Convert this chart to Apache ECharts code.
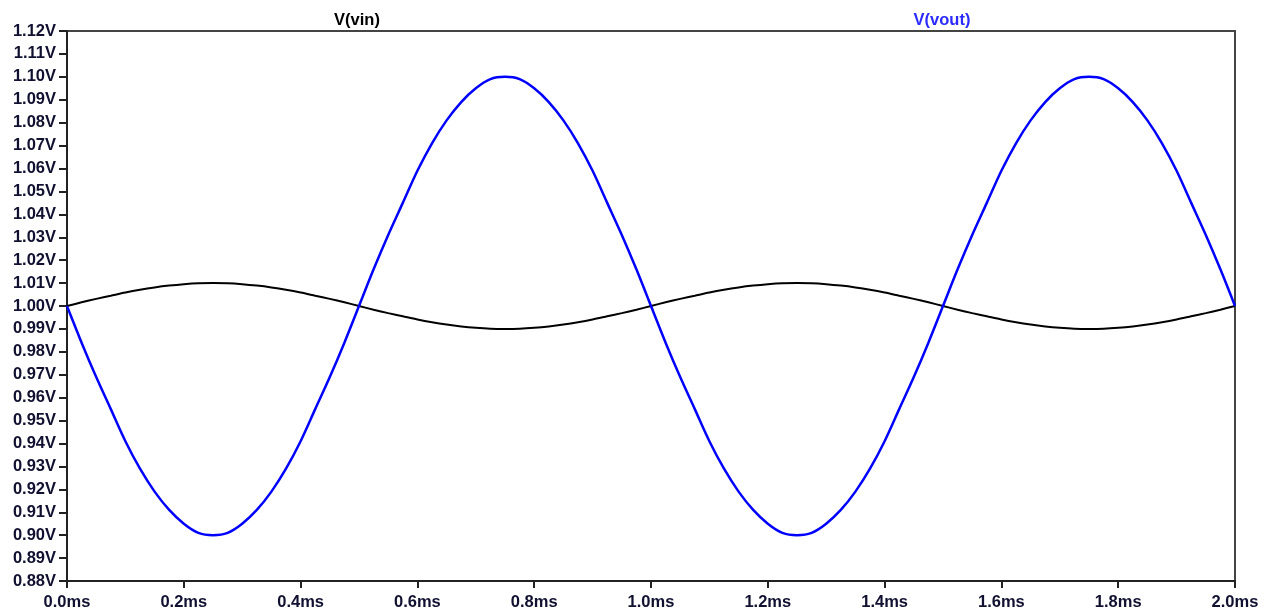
<!DOCTYPE html>
<html>
<head>
<meta charset="utf-8">
<title>V(vin) / V(vout)</title>
<script src="https://cdn.jsdelivr.net/npm/echarts@6/dist/echarts.min.js"></script>
<style>
html, body { margin: 0; padding: 0; background: #fff; }
#main { width: 1270px; height: 614px; }
</style>
</head>
<body>
<div id="main"></div>
<script>
// time in ms, sampled every 0.025ms
var time = [0.000, 0.025, 0.050, 0.075, 0.100, 0.125, 0.150, 0.175, 0.200, 0.225,
            0.250, 0.275, 0.300, 0.325, 0.350, 0.375, 0.400, 0.425, 0.450, 0.475,
            0.500, 0.525, 0.550, 0.575, 0.600, 0.625, 0.650, 0.675, 0.700, 0.725,
            0.750, 0.775, 0.800, 0.825, 0.850, 0.875, 0.900, 0.925, 0.950, 0.975,
            1.000, 1.025, 1.050, 1.075, 1.100, 1.125, 1.150, 1.175, 1.200, 1.225,
            1.250, 1.275, 1.300, 1.325, 1.350, 1.375, 1.400, 1.425, 1.450, 1.475,
            1.500, 1.525, 1.550, 1.575, 1.600, 1.625, 1.650, 1.675, 1.700, 1.725,
            1.750, 1.775, 1.800, 1.825, 1.850, 1.875, 1.900, 1.925, 1.950, 1.975, 2.000];
var vin = [1.0000, 1.0016, 1.0031, 1.0045, 1.0059, 1.0071, 1.0081, 1.0089, 1.0095, 1.0099,
           1.0100, 1.0099, 1.0095, 1.0089, 1.0081, 1.0071, 1.0059, 1.0045, 1.0031, 1.0016,
           1.0000, 0.9984, 0.9969, 0.9955, 0.9941, 0.9929, 0.9919, 0.9911, 0.9905, 0.9901,
           0.9900, 0.9901, 0.9905, 0.9911, 0.9919, 0.9929, 0.9941, 0.9955, 0.9969, 0.9984,
           1.0000, 1.0016, 1.0031, 1.0045, 1.0059, 1.0071, 1.0081, 1.0089, 1.0095, 1.0099,
           1.0100, 1.0099, 1.0095, 1.0089, 1.0081, 1.0071, 1.0059, 1.0045, 1.0031, 1.0016,
           1.0000, 0.9984, 0.9969, 0.9955, 0.9941, 0.9929, 0.9919, 0.9911, 0.9905, 0.9901,
           0.9900, 0.9901, 0.9905, 0.9911, 0.9919, 0.9929, 0.9941, 0.9955, 0.9969, 0.9984, 1.0000];
var vout = [1.000, 0.984, 0.969, 0.955, 0.941, 0.929, 0.919, 0.911, 0.905, 0.901,
            0.900, 0.901, 0.905, 0.911, 0.919, 0.929, 0.941, 0.955, 0.969, 0.984,
            1.000, 1.016, 1.031, 1.045, 1.059, 1.071, 1.081, 1.089, 1.095, 1.099,
            1.100, 1.099, 1.095, 1.089, 1.081, 1.071, 1.059, 1.045, 1.031, 1.016,
            1.000, 0.984, 0.969, 0.955, 0.941, 0.929, 0.919, 0.911, 0.905, 0.901,
            0.900, 0.901, 0.905, 0.911, 0.919, 0.929, 0.941, 0.955, 0.969, 0.984,
            1.000, 1.016, 1.031, 1.045, 1.059, 1.071, 1.081, 1.089, 1.095, 1.099,
            1.100, 1.099, 1.095, 1.089, 1.081, 1.071, 1.059, 1.045, 1.031, 1.016, 1.000];
var traceNames = ['V(vin)', 'V(vout)'];

function pairs(xs, ys) {
    var out = [];
    for (var i = 0; i < xs.length; i++) out.push([xs[i], ys[i]]);
    return out;
}

var font = 'Liberation Sans, Arial, sans-serif';
var chart = echarts.init(document.getElementById('main'));
chart.setOption({
    animation: false,
    graphic: [
        {type: 'text', x: 357, y: 20,
         style: {text: traceNames[0], align: 'center', verticalAlign: 'middle',
                 font: 'bold 16.5px ' + font, fill: '#000'}},
        {type: 'text', x: 942, y: 20,
         style: {text: traceNames[1], align: 'center', verticalAlign: 'middle',
                 font: 'bold 16.5px ' + font, fill: '#2a2aff'}}
    ],
    grid: {
        left: 67, right: 35, top: 31, bottom: 33,
        show: true, borderColor: '#444', borderWidth: 2, backgroundColor: '#fff'
    },
    xAxis: {
        type: 'value', min: 0, max: 2, interval: 0.2,
        axisLine: {show: true, lineStyle: {color: '#222', width: 2}},
        axisTick: {show: true, length: 7, lineStyle: {color: '#222', width: 2}},
        splitLine: {show: false},
        axisLabel: {
            margin: 13, fontFamily: font, fontSize: 16.5, fontWeight: 'bold', color: '#101030',
            formatter: function (v) { return v.toFixed(1) + 'ms'; }
        }
    },
    yAxis: {
        type: 'value', min: 0.88, max: 1.12, interval: 0.01,
        axisLine: {show: true, lineStyle: {color: '#222', width: 2}},
        axisTick: {show: true, length: 8, lineStyle: {color: '#222', width: 2}},
        splitLine: {show: false},
        axisLabel: {
            margin: 11, fontFamily: font, fontSize: 16.5, fontWeight: 'bold', color: '#101030',
            formatter: function (v) { return v.toFixed(2) + 'V'; }
        }
    },
    series: [
        {
            name: traceNames[0], type: 'line', smooth: 0.3, showSymbol: false,
            lineStyle: {color: '#000', width: 2},
            data: pairs(time, vin)
        },
        {
            name: traceNames[1], type: 'line', smooth: 0.3, showSymbol: false,
            lineStyle: {color: '#0000ff', width: 2.5},
            data: pairs(time, vout)
        }
    ]
});
</script>
</body>
</html>
